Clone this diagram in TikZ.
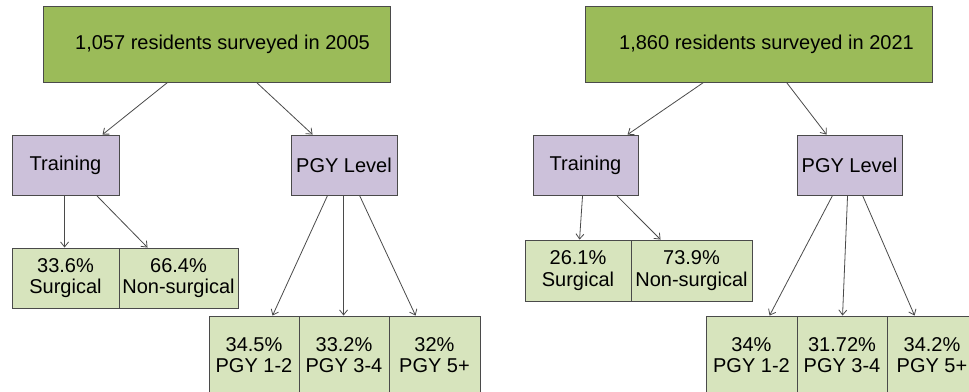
\documentclass[tikz,border=0pt]{standalone}
\usepackage{fontspec}
\setmainfont{Liberation Sans}
\usetikzlibrary{arrows.meta}
\definecolor{topgreen}{HTML}{9BBB59}
\definecolor{lav}{HTML}{CCC1DA}
\definecolor{lgreen}{HTML}{D7E4BD}
\definecolor{edge}{HTML}{4A4A4A}
\tikzset{
  box/.style={draw=edge, line width=0.9pt, inner sep=0pt, align=center,
    font=\fontsize{20}{21.5}\selectfont},
  topbox/.style={box, fill=topgreen, minimum width=347pt, minimum height=76pt},
  midbox/.style={box, fill=lav, minimum height=60pt},
  leafbox/.style={box, fill=lgreen},
  conn/.style={draw=edge, line width=0.8pt, -{Straight Barb[length=5pt,width=8pt]}}
}
\begin{document}
\begin{tikzpicture}[x=1pt,y=-1pt]
\useasboundingbox (0,0) rectangle (969,391);
\begin{scope}
\clip (0,0) rectangle (969,391);
% left panel
\node[topbox] (top1) at (216.5,44) {\hspace*{12pt}1,057 residents surveyed in 2005};
\node[midbox, minimum width=107pt] (train1) at (65.5,165) {Training};
\node[midbox, minimum width=106pt] (pgy1) at (344,165) {PGY Level};
\node[leafbox, minimum width=107pt, minimum height=60pt] (surg1) at (65.5,278) {33.6\%\\Surgical};
\node[leafbox, minimum width=119pt, minimum height=60pt] (nons1) at (178.5,278) {66.4\%\\Non-surgical};
\node[leafbox, minimum width=90pt, minimum height=78pt] (p12) at (254,355) {34.5\%\\PGY 1-2};
\node[leafbox, minimum width=90pt, minimum height=78pt] (p34) at (344,355) {33.2\%\\PGY 3-4};
\node[leafbox, minimum width=91pt, minimum height=78pt] (p5) at (434.5,355) {32\%\\PGY 5+};
% right panel
\node[topbox] (top2) at (758.5,44) {\hspace*{16pt}1,860 residents surveyed in 2021};
\node[midbox, minimum width=105pt] (train2) at (585.5,165) {Training};
\node[midbox, minimum width=105pt] (pgy2) at (849.5,165) {PGY Level};
\node[leafbox, minimum width=106pt, minimum height=61pt] (surg2) at (578,270.5) {26.1\%\\Surgical};
\node[leafbox, minimum width=121pt, minimum height=61pt] (nons2) at (691.5,270.5) {73.9\%\\Non-surgical};
\node[leafbox, minimum width=91pt, minimum height=78pt] (q12) at (751.5,355) {34\%\\PGY 1-2};
\node[leafbox, minimum width=90pt, minimum height=78pt] (q34) at (842,355) {31.72\%\\PGY 3-4};
\node[leafbox, minimum width=90pt, minimum height=78pt] (q5) at (932,355) {34.2\%\\PGY 5+};
\end{scope}
% connectors left
\draw[conn] ([xshift=125pt]top1.south west) -- ([xshift=91pt]train1.north west);
\draw[conn] ([xshift=214pt]top1.south west) -- ([xshift=22pt]pgy1.north west);
\draw[conn] ([xshift=53pt]train1.south west) -- ([xshift=53pt]surg1.north west);
\draw[conn] ([xshift=85pt]train1.south west) -- ([xshift=29pt]nons1.north west);
\draw[conn] ([xshift=37pt]pgy1.south west) -- ([xshift=64pt]p12.north west);
\draw[conn] ([xshift=53pt]pgy1.south west) -- ([xshift=45pt]p34.north west);
\draw[conn] ([xshift=69pt]pgy1.south west) -- ([xshift=27pt]p5.north west);
% connectors right
\draw[conn] ([xshift=119pt]top2.south west) -- ([xshift=95pt]train2.north west);
\draw[conn] ([xshift=202pt]top2.south west) -- ([xshift=30pt]pgy2.north west);
\draw[conn] ([xshift=50pt]train2.south west) -- ([xshift=55pt]surg2.north west);
\draw[conn] ([xshift=84pt]train2.south west) -- ([xshift=30pt]nons2.north west);
\draw[conn] ([xshift=36pt]pgy2.south west) -- ([xshift=64pt]q12.north west);
\draw[conn] ([xshift=51pt]pgy2.south west) -- ([xshift=46pt]q34.north west);
\draw[conn] ([xshift=66pt]pgy2.south west) -- ([xshift=28pt]q5.north west);
\end{tikzpicture}
\end{document}
